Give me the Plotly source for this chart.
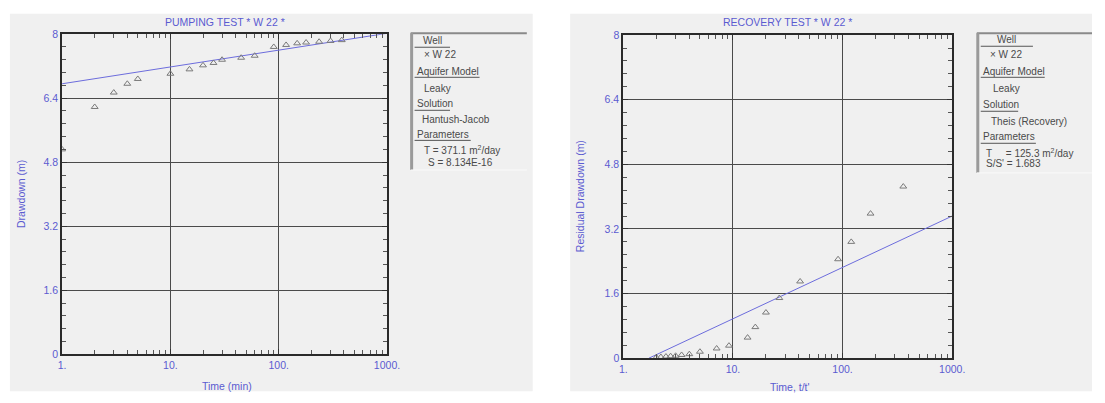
import plotly.graph_objects as go

W, H = 1105, 403

# ---- data -------------------------------------------------------------
# Pumping test, well W 22: elapsed time (min) vs drawdown (m)
pump_time = [1, 2, 3, 4, 5, 10, 15, 20, 25, 30, 45, 60, 90, 117, 148, 179, 236, 301, 382]
pump_drawdown = [5.12, 6.18, 6.54, 6.76, 6.88, 7.01, 7.12, 7.22, 7.28, 7.36, 7.41, 7.46,
                 7.68, 7.73, 7.77, 7.79, 7.81, 7.83, 7.85]
# Hantush-Jacob fitted straight line (semi-log)
pump_fit_time = [1, 1000]
pump_fit_drawdown = [6.76, 8.02]

# Recovery test, well W 22: t/t' vs residual drawdown (m)
rec_ratio = [2.0, 2.2, 2.45, 2.7, 3.0, 3.4, 4.0, 5.0, 7.1, 9.2, 13.6, 16, 20, 26.5, 41,
             91, 120, 180, 358]
rec_residual = [0.02, 0.03, 0.04, 0.05, 0.06, 0.08, 0.10, 0.16, 0.24, 0.31, 0.51, 0.77,
                1.13, 1.49, 1.90, 2.45, 2.88, 3.58, 4.25]
# Theis recovery fitted line
rec_fit_ratio = [1.71, 1000]
rec_fit_residual = [0, 3.52]

x_tickvals = [1, 10, 100, 1000]
x_ticktext = ["1.", "10.", "100.", "1000."]
y_tickvals = [0, 1.6, 3.2, 4.8, 6.4, 8]
y_ticktext = ["0", "1.6", "3.2", "4.8", "6.4", "8"]
x_minor = [m * d for d in (1, 10, 100) for m in range(2, 10)]
y_minor = [round(0.32 * k, 2) for k in range(1, 25) if k % 5]

legend_pump = [("Well", True), ("× W 22", False), ("Aquifer Model", True), ("Leaky", False),
               ("Solution", True), ("Hantush-Jacob", False), ("Parameters", True),
               ("T = 371.1 m<sup>2</sup>/day", False), ("S = 8.134E-16", False)]
legend_rec = [("Well", True), ("× W 22", False), ("Aquifer Model", True), ("Leaky", False),
              ("Solution", True), ("Theis (Recovery)", False), ("Parameters", True),
              ("T     = 125.3 m<sup>2</sup>/day", False), ("S/S' = 1.683", False)]

# ---- styling ----------------------------------------------------------
FONT = "Liberation Sans, Arial, sans-serif"
BLUE_TXT = "#5b5bd0"
LINE_BLUE = "#6c6cdc"
MARK = "#7a7a7a"
PANEL = "#f0f0f0"


def px(x):
    return x / W


def py(y):
    return 1 - y / H


fig = go.Figure()

marker = dict(symbol="triangle-up-open", size=6, color=MARK, line=dict(width=1, color=MARK))

fig.add_trace(go.Scatter(x=pump_fit_time, y=pump_fit_drawdown, mode="lines",
                         line=dict(color=LINE_BLUE, width=1), xaxis="x", yaxis="y",
                         hoverinfo="skip"))
fig.add_trace(go.Scatter(x=pump_time, y=pump_drawdown, mode="markers", marker=marker,
                         xaxis="x", yaxis="y"))
fig.add_trace(go.Scatter(x=rec_fit_ratio, y=rec_fit_residual, mode="lines",
                         line=dict(color=LINE_BLUE, width=1), xaxis="x2", yaxis="y2",
                         hoverinfo="skip"))
fig.add_trace(go.Scatter(x=rec_ratio, y=rec_residual, mode="markers", marker=marker,
                         xaxis="x2", yaxis="y2"))
# empty traces that bring up the minor-tick overlay axes
fig.add_trace(go.Scatter(x=[], y=[], xaxis="x3", yaxis="y3"))
fig.add_trace(go.Scatter(x=[], y=[], xaxis="x4", yaxis="y4"))

TICKFONT = dict(family=FONT, size=10.5, color=BLUE_TXT)


def xaxis_style(domain, anchor):
    return dict(type="log", range=[0, 3], domain=domain, anchor=anchor,
                tickmode="array", tickvals=x_tickvals, ticktext=x_ticktext,
                ticks="inside", ticklen=5, tickcolor="#333", mirror="allticks",
                showline=True, linecolor="#2a2a2a", linewidth=2,
                showgrid=True, gridcolor="#4a4a4a", gridwidth=1, zeroline=False,
                tickfont=TICKFONT)


def yaxis_style(domain, anchor):
    return dict(range=[0, 8], domain=domain, anchor=anchor,
                tickmode="array", tickvals=y_tickvals, ticktext=y_ticktext,
                ticks="inside", ticklen=5, tickcolor="#333", mirror="allticks",
                showline=True, linecolor="#2a2a2a", linewidth=2,
                showgrid=True, gridcolor="#4a4a4a", gridwidth=1, zeroline=False,
                tickfont=TICKFONT)


def xminor_style(domain, over, anchor):
    return dict(type="log", range=[0, 3], domain=domain, overlaying=over, anchor=anchor,
                tickmode="array", tickvals=x_minor, ticks="inside", ticklen=4,
                tickcolor="#555", mirror="allticks", showticklabels=False,
                showline=False, showgrid=False, zeroline=False)


def yminor_style(domain, over, anchor):
    return dict(range=[0, 8], domain=domain, overlaying=over, anchor=anchor,
                tickmode="array", tickvals=y_minor, ticks="inside", ticklen=4,
                tickcolor="#555", mirror="allticks", showticklabels=False,
                showline=False, showgrid=False, zeroline=False)


shapes = [
    dict(type="rect", xref="paper", yref="paper", x0=px(6), x1=px(537), y0=py(397), y1=py(8),
         fillcolor=PANEL, line=dict(width=0), layer="below"),
    dict(type="rect", xref="paper", yref="paper", x0=px(575), x1=px(1105), y0=py(397), y1=py(8),
         fillcolor=PANEL, line=dict(width=0), layer="below"),
]
annotations = []


def add_text(text, x, y, size=10.5, color=BLUE_TXT, xanchor="center", angle=0):
    annotations.append(dict(text=text, xref="paper", yref="paper", x=px(x), y=py(y),
                            xanchor=xanchor, yanchor="middle", showarrow=False,
                            textangle=angle, font=dict(family=FONT, size=size, color=color)))


def add_legend(x0, x1, y0, y1, rows, row_y, row_x, underline_end):
    shapes.append(dict(type="line", xref="paper", yref="paper", x0=px(x0), x1=px(x1),
                       y0=py(y0), y1=py(y0), line=dict(color="#8a8a8a", width=2)))
    shapes.append(dict(type="line", xref="paper", yref="paper", x0=px(x0 + 1), x1=px(x0 + 1),
                       y0=py(y0), y1=py(y1), line=dict(color="#9a9a9a", width=3)))
    shapes.append(dict(type="line", xref="paper", yref="paper", x0=px(x0), x1=px(x1),
                       y0=py(y1), y1=py(y1), line=dict(color="#fafafa", width=1)))
    for (text, head), yy, xx, ue in zip(rows, row_y, row_x, underline_end):
        if text == "Well":
            add_text(text, (xx + ue) / 2, yy, size=10, color="#4a4a4a")
        else:
            add_text(text, xx, yy, size=10, color="#4a4a4a", xanchor="left")
        if head:
            shapes.append(dict(type="line", xref="paper", yref="paper", x0=px(xx), x1=px(ue),
                               y0=py(yy + 6.5), y1=py(yy + 6.5),
                               line=dict(color="#555", width=1)))


# titles and axis labels
add_text("PUMPING TEST * W 22 *", 224, 16)
add_text("RECOVERY TEST * W 22 *", 796, 16)
add_text("Drawdown (m)", 17, 194, angle=-90)
add_text("Residual Drawdown (m)", 585, 196, angle=-90)
add_text("Time (min)", 226, 392)
add_text("Time, t/t'", 798, 393)

add_legend(413, 531, 28, 169, legend_pump,
           [36, 50, 67, 85, 101, 117, 132, 148, 161],
           [417, 425, 417, 425, 417, 422, 417, 425, 429],
           [453, 0, 483, 0, 453, 0, 474, 0, 0])
add_legend(988, 1105, 28, 172, legend_rec,
           [35, 50, 67, 85, 102, 119, 135, 151, 162],
           [992, 999, 992, 1002, 992, 1000, 992, 995, 995],
           [1045, 0, 1057, 0, 1030, 0, 1048, 0, 0])

left_x, left_y = [px(59), px(389)], [py(359), py(29)]
right_x, right_y = [px(629), px(963)], [py(363), py(30)]

fig.update_layout(
    width=W, height=H,
    margin=dict(l=0, r=0, t=0, b=0),
    paper_bgcolor="white", plot_bgcolor="white",
    xaxis=xaxis_style(left_x, "y"),
    yaxis=yaxis_style(left_y, "x"),
    xaxis2=xaxis_style(right_x, "y2"),
    yaxis2=yaxis_style(right_y, "x2"),
    xaxis3=xminor_style(left_x, "x", "y3"),
    yaxis3=yminor_style(left_y, "y", "x3"),
    xaxis4=xminor_style(right_x, "x2", "y4"),
    yaxis4=yminor_style(right_y, "y2", "x4"),
    shapes=shapes,
    annotations=annotations,
    showlegend=False,
)

fig.write_html("out.html")
